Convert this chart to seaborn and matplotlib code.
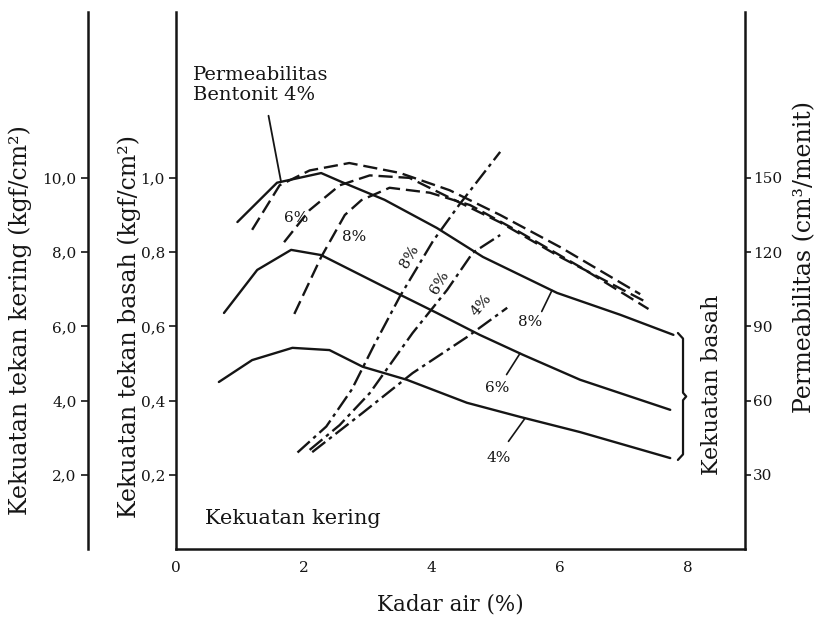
import matplotlib
matplotlib.use('Agg')

import numpy as np
import pandas as pd
import matplotlib.pyplot as plt
import seaborn as sns

# kadar air (%) for every curve, bentonit 4 / 6 / 8 %

# kekuatan tekan basah (kgf/cm2), solid
basah4_x = [0.67, 1.19, 1.82, 2.40, 2.92, 3.61, 4.55, 5.38, 6.32, 7.73]
basah4_y = [0.450, 0.509, 0.542, 0.536, 0.491, 0.456, 0.394, 0.356, 0.315, 0.245]
basah6_x = [0.75, 1.27, 1.80, 2.27, 3.26, 4.08, 4.75, 5.43, 6.32, 7.73]
basah6_y = [0.636, 0.752, 0.806, 0.792, 0.706, 0.636, 0.577, 0.523, 0.456, 0.375]
basah8_x = [0.96, 1.58, 2.27, 2.59, 3.26, 4.08, 4.80, 5.96, 6.95, 7.78]
basah8_y = [0.881, 0.987, 1.013, 0.989, 0.941, 0.865, 0.787, 0.690, 0.631, 0.577]

# kekuatan tekan kering (kgf/cm2), dash-dot
kering4_x = [2.13, 2.92, 3.70, 4.55, 5.18]
kering4_y = [2.61, 3.67, 4.74, 5.71, 6.50]
kering6_x = [2.09, 2.56, 3.03, 3.70, 4.24, 4.64, 5.07]
kering6_y = [2.67, 3.34, 4.20, 5.82, 6.98, 7.98, 8.46]
kering8_x = [1.90, 2.35, 2.75, 3.10, 3.50, 4.02, 4.44, 5.07]
kering8_y = [2.60, 3.30, 4.30, 5.50, 6.80, 8.30, 9.30, 10.70]

# permeabilitas (cm3/menit), dashed
perm4_x = [1.19, 1.62, 2.09, 2.71, 3.50, 4.28, 5.07, 6.01, 7.26]
perm4_y = [129, 147, 153, 156, 152, 145, 135, 122, 103]
perm6_x = [1.69, 2.09, 2.56, 3.03, 3.65, 4.28, 5.07, 6.01, 7.34]
perm6_y = [124, 137, 147, 151, 150, 142, 132, 118, 100]
perm8_x = [1.85, 2.27, 2.64, 2.90, 3.34, 3.97, 4.60, 5.38, 6.32, 7.39]
perm8_y = [95, 118, 135, 141, 146, 144, 139, 128, 114, 97]

x_ticks = [0, 2, 4, 6, 8]
basah_ticks = [0.2, 0.4, 0.6, 0.8, 1.0]
kering_ticks = [2.0, 4.0, 6.0, 8.0, 10.0]
perm_ticks = [30, 60, 90, 120, 150]

sns.set_style('white')
plt.rcParams['font.family'] = ['DejaVu Serif']
INK = '#151515'

fig = plt.figure(figsize=(8.18, 6.24), dpi=100)
ax = fig.add_axes([0.2152, 0.1202, 0.6956, 0.8606])
ax_dry = ax.twinx()
ax_perm = ax.twinx()

lw = 1.7
for xs, ys in [(basah4_x, basah4_y), (basah6_x, basah6_y), (basah8_x, basah8_y)]:
    sns.lineplot(x=xs, y=ys, ax=ax, color=INK, lw=lw, sort=False)
for xs, ys in [(kering4_x, kering4_y), (kering6_x, kering6_y), (kering8_x, kering8_y)]:
    sns.lineplot(x=xs, y=ys, ax=ax_dry, color=INK, lw=lw, sort=False,
                 linestyle=(0, (7, 2, 1.5, 2)))
for xs, ys in [(perm4_x, perm4_y), (perm6_x, perm6_y), (perm8_x, perm8_y)]:
    sns.lineplot(x=xs, y=ys, ax=ax_perm, color=INK, lw=lw, sort=False,
                 linestyle=(0, (6, 2.5)))

# scales: wet 0..1.447, dry = wet*10, perm = wet*150
top = 1.447
ax.set_xlim(0, 8.9)
ax.set_ylim(0, top)
ax_dry.set_ylim(0, top * 10)
ax_perm.set_ylim(0, top * 150)

for a in (ax, ax_dry, ax_perm):
    a.set_xlabel('')
    a.set_ylabel('')
    for s in a.spines.values():
        s.set_visible(False)
        s.set_linewidth(1.8)
        s.set_color(INK)

ax.spines['left'].set_visible(True)
ax.spines['bottom'].set_visible(True)
ax.set_xticks(x_ticks)
ax.set_xticklabels([str(v) for v in x_ticks])
ax.set_yticks(basah_ticks)
ax.set_yticklabels([('%.1f' % v).replace('.', ',') for v in basah_ticks])
ax.tick_params(axis='x', direction='in', length=6, width=1.2, pad=9,
               labelsize=11, colors=INK)
ax.tick_params(axis='y', direction='out', length=5, width=1.2, pad=3,
               labelsize=11, colors=INK)

ax_dry.spines['left'].set_visible(True)
ax_dry.spines['left'].set_position(('axes', -0.155))
ax_dry.yaxis.set_ticks_position('left')
ax_dry.set_yticks(kering_ticks)
ax_dry.set_yticklabels([('%.1f' % v).replace('.', ',') for v in kering_ticks])
ax_dry.tick_params(axis='y', direction='out', length=5, width=1.2, pad=3,
                   labelsize=11, colors=INK)

ax_perm.spines['right'].set_visible(True)
ax_perm.set_yticks(perm_ticks)
ax_perm.set_yticklabels([str(v) for v in perm_ticks])
ax_perm.tick_params(axis='y', direction='out', length=4, width=1.2, pad=2,
                    labelsize=11, colors=INK)

# bracket grouping the wet strength curves
bx = basah8_x[-1] + 0.15
b_top = basah8_y[-1]
b_bot = basah4_y[-1]
b_mid = (b_top + b_bot) / 2
ax.plot([bx - 0.08, bx, bx, bx + 0.05, bx, bx, bx - 0.08],
        [b_top + 0.005, b_top - 0.01, b_mid + 0.01, b_mid, b_mid - 0.01, b_bot + 0.01, b_bot - 0.005],
        color=INK, lw=1.6)

# labels on curves
def leader(a, lx, ly, xs, ys, cx):
    a.plot([lx, cx], [ly, np.interp(cx, xs, ys)], color=INK, lw=1.2)

ax.text(5.54, 0.612, '8%', fontsize=11, color=INK, ha='center', va='center')
leader(ax, 5.72, 0.64, basah8_x, basah8_y, 5.88)
ax.text(5.02, 0.434, '6%', fontsize=11, color=INK, ha='center', va='center')
leader(ax, 5.17, 0.47, basah6_x, basah6_y, 5.38)
ax.text(5.04, 0.245, '4%', fontsize=11, color=INK, ha='center', va='center')
leader(ax, 5.20, 0.29, basah4_x, basah4_y, 5.46)

ax.text(3.65, 0.787, '8%', fontsize=11, color=INK, ha='center', va='center', rotation=60)
ax.text(4.13, 0.717, '6%', fontsize=11, color=INK, ha='center', va='center', rotation=60)
ax.text(4.78, 0.658, '4%', fontsize=11, color=INK, ha='center', va='center', rotation=50)

ax.text(1.88, 0.892, '6%', fontsize=11, color=INK, ha='center', va='center')
ax.text(2.79, 0.841, '8%', fontsize=11, color=INK, ha='center', va='center')

fig.text(193 / 818, 1 - 66 / 624, 'Permeabilitas\nBentonit 4%', fontsize=14,
         color=INK, ha='left', va='top', linespacing=1.15)
ax_perm.annotate('', xy=(1.65, np.interp(1.65, perm4_x, perm4_y)),
                 xytext=(268 / 818, 1 - 113 / 624), textcoords='figure fraction',
                 arrowprops=dict(arrowstyle='-', lw=1.3, color=INK))

fig.text(205 / 818, 1 - 518 / 624, 'Kekuatan kering', fontsize=15, color=INK,
         ha='left', va='center')

# axis titles
fig.text(450 / 818, 1 - 605 / 624, 'Kadar air (%)', fontsize=15.5, color=INK,
         ha='center', va='center')
fig.text(20 / 818, 1 - 320 / 624, 'Kekuatan tekan kering (kgf/cm²)', fontsize=17,
         color=INK, ha='center', va='center', rotation=90)
fig.text(129 / 818, 1 - 326 / 624, 'Kekuatan tekan basah (kgf/cm²)', fontsize=17,
         color=INK, ha='center', va='center', rotation=90)
fig.text(712 / 818, 1 - 385 / 624, 'Kekuatan basah', fontsize=16, color=INK,
         ha='center', va='center', rotation=90)
fig.text(805 / 818, 1 - 257 / 624, 'Permeabilitas (cm³/menit)', fontsize=17,
         color=INK, ha='center', va='center', rotation=90)

fig.savefig('out.png', dpi=100)
